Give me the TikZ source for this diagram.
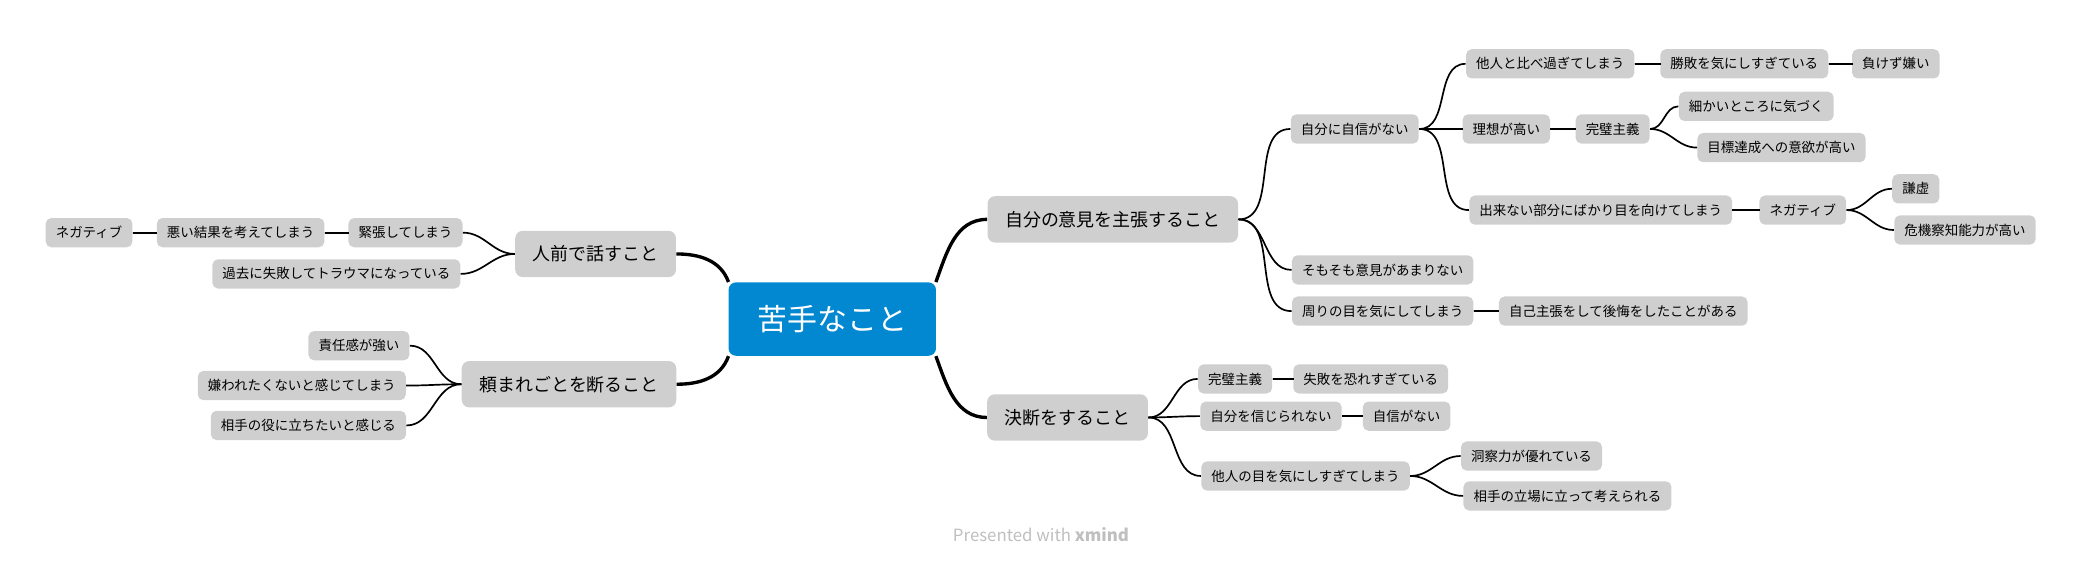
\documentclass[tikz,border=0pt]{standalone}
\usepackage{fontspec}
\setmainfont{Noto Sans CJK JP}
\usetikzlibrary{calc}

\definecolor{topicgray}{HTML}{CFCFCF}
\definecolor{rootblue}{HTML}{0288D1}

\tikzset{
    root/.style={fill=rootblue, text=white, rounded corners=4pt, minimum width=3.9cm,
        minimum height=1.38cm, font=\fontsize{16}{18}\selectfont},
    main/.style={fill=topicgray, rounded corners=4pt, minimum height=0.87cm,
        inner xsep=0.33cm, font=\fontsize{9.6}{11}\selectfont},
    sub/.style={fill=topicgray, rounded corners=3pt, minimum height=0.55cm,
        inner xsep=0.19cm, inner ysep=0pt, font=\fontsize{7.2}{8}\selectfont},
    link/.style={line width=0.9pt},
    trunk/.style={line width=1.8pt}
}

% connector to the right / to the left
\newcommand{\rlink}[2]{\draw[link] (#1.east) -- ++(0.12,0) to[out=0,in=180] ($(#2.west)+(-0.12,0)$) -- (#2.west);}
\newcommand{\llink}[2]{\draw[link] (#1.west) -- ++(-0.12,0) to[out=180,in=0] ($(#2.east)+(0.12,0)$) -- (#2.east);}

\begin{document}
\begin{tikzpicture}[x=0.025cm, y=-0.025cm]

    \useasboundingbox (0,0) rectangle (1560,424);

    % Central topic
    \node[root] (root) at (626,240) {苦手なこと};

    % Main topics
    \node[main] (assert) at (837,165) {自分の意見を主張すること};
    \node[main] (decide) at (803,314) {決断をすること};
    \node[main] (speak)  at (448,191) {人前で話すこと};
    \node[main] (refuse) at (428,289) {頼まれごとを断ること};

    % Branch: assert
    \node[sub] (noconf)  at (1019,97)  {自分に自信がない};
    \node[sub] (noopin)  at (1040,203) {そもそも意見があまりない};
    \node[sub] (eyes)    at (1040,234) {周りの目を気にしてしまう};
    \node[sub] (compare) at (1166,48)  {他人と比べ過ぎてしまう};
    \node[sub] (ideal)   at (1133,97)  {理想が高い};
    \node[sub] (weak)    at (1204,158) {出来ない部分にばかり目を向けてしまう};
    \node[sub] (winlose) at (1312,48)  {勝敗を気にしすぎている};
    \node[sub] (hate)    at (1426,48)  {負けず嫌い};
    \node[sub] (perfA)   at (1213,97)  {完璧主義};
    \node[sub] (detail)  at (1321,80)  {細かいところに気づく};
    \node[sub] (goal)    at (1340,111) {目標達成への意欲が高い};
    \node[sub] (negA)    at (1356,158) {ネガティブ};
    \node[sub] (humble)  at (1441,142) {謙虚};
    \node[sub] (danger)  at (1478,173) {危機察知能力が高い};
    \node[sub] (regret)  at (1221,234) {自己主張をして後悔をしたことがある};

    % Branch: decide
    \node[sub] (perfB)   at (929,285)  {完璧主義};
    \node[sub] (fail)    at (1031,285) {失敗を恐れすぎている};
    \node[sub] (nobel)   at (956,313)  {自分を信じられない};
    \node[sub] (noconfB) at (1058,313) {自信がない};
    \node[sub] (others)  at (982,358)  {他人の目を気にしすぎてしまう};
    \node[sub] (insight) at (1152,343) {洞察力が優れている};
    \node[sub] (stand)   at (1179,373) {相手の立場に立って考えられる};

    % Branch: speak
    \node[sub] (nervous) at (305,175)  {緊張してしまう};
    \node[sub] (worst)   at (181,175)  {悪い結果を考えてしまう};
    \node[sub] (negB)    at (67,175)   {ネガティブ};
    \node[sub] (trauma)  at (253,206)  {過去に失敗してトラウマになっている};

    % Branch: refuse
    \node[sub] (resp)    at (270,260)  {責任感が強い};
    \node[sub] (disliked) at (227,290) {嫌われたくないと感じてしまう};
    \node[sub] (helpful) at (232,320)  {相手の役に立ちたいと感じる};

    % Trunk connectors
    \draw[trunk] ($(root.north east)+(-0.35,0)$) to[out=70,in=180] (assert.west);
    \draw[trunk] ($(root.south east)+(-0.35,0)$) to[out=-70,in=180] (decide.west);
    \draw[trunk] ($(root.north west)+(0.25,0)$) to[out=110,in=0] (speak.east);
    \draw[trunk] ($(root.south west)+(0.25,0)$) to[out=-110,in=0] (refuse.east);

    % Right side connectors
    \foreach \a/\b in {assert/noconf, assert/noopin, assert/eyes,
        noconf/compare, noconf/ideal, noconf/weak, compare/winlose, winlose/hate,
        ideal/perfA, perfA/detail, perfA/goal, weak/negA, negA/humble, negA/danger,
        eyes/regret, decide/perfB, decide/nobel, decide/others, perfB/fail,
        nobel/noconfB, others/insight, others/stand}
        {\rlink{\a}{\b}}

    % Left side connectors
    \foreach \a/\b in {speak/nervous, speak/trauma, nervous/worst, worst/negB,
        refuse/resp, refuse/disliked, refuse/helpful}
        {\llink{\a}{\b}}

    % Watermark
    \node[text=black!25, font=\fontsize{9}{10}\selectfont] (mark) at (783,402)
        {Presented with \textbf{xmind}};

\end{tikzpicture}
\end{document}
